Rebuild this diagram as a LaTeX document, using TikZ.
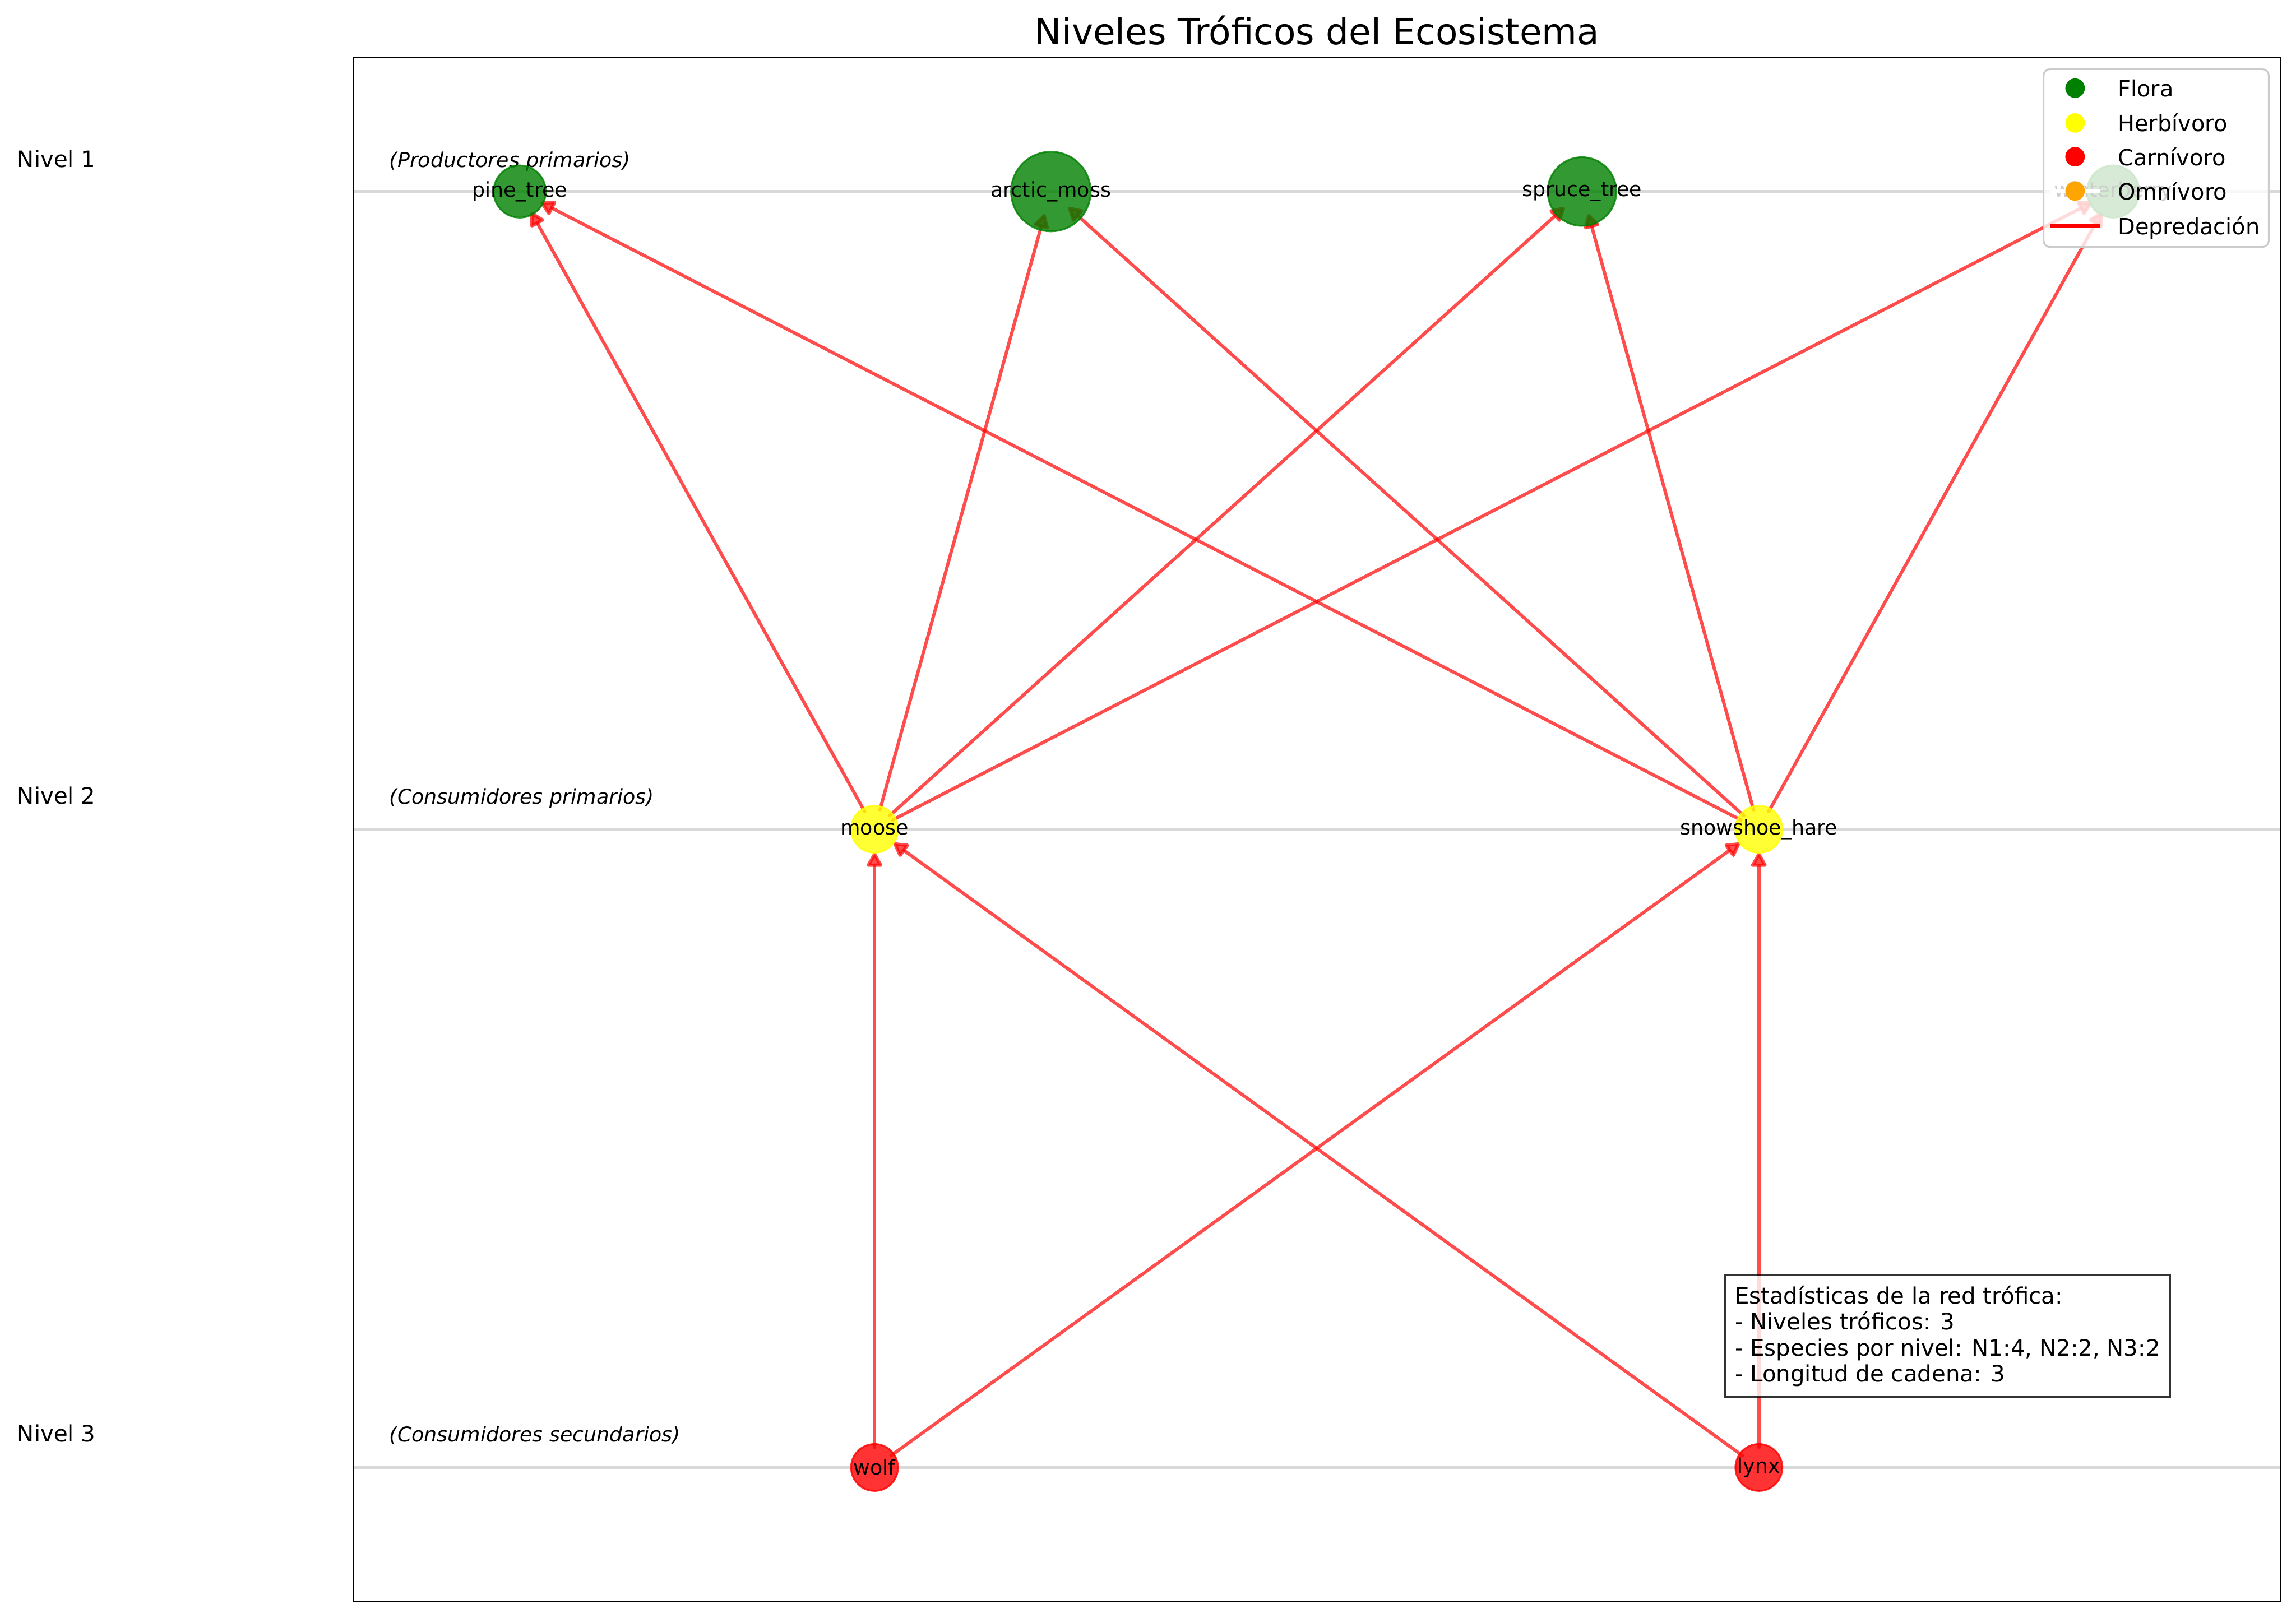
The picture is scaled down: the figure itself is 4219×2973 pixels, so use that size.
\documentclass[tikz,border=0pt]{standalone}
\usepackage{fontspec}
\setmainfont{DejaVu Sans}[ItalicFont={DejaVu Sans Oblique}]
\usetikzlibrary{arrows.meta,positioning}

\definecolor{flora}{HTML}{008000}
\definecolor{herbivoro}{HTML}{FFFF00}
\definecolor{carnivoro}{HTML}{FF0000}
\definecolor{omnivoro}{HTML}{FFA500}

\pgfdeclarelayer{levels}
\pgfdeclarelayer{edges}
\pgfdeclarelayer{front}
\pgfsetlayers{levels,edges,main,front}

\begin{document}
\begin{tikzpicture}[
    x=0.2483pt, y=-0.2483pt,
    species_node/.style={circle, inner sep=0pt, line width=0.8pt, fill opacity=0.8, draw opacity=0.8},
    flora_node/.style={species_node, draw=flora, fill=flora},
    herb_node/.style={species_node, draw=herbivoro, fill=herbivoro, minimum size=21.4pt},
    carn_node/.style={species_node, draw=carnivoro, fill=carnivoro, minimum size=21.4pt},
    species_label/.style={inner sep=0pt, font=\fontsize{9.3}{11}\selectfont},
    level_label/.style={anchor=base west, inner sep=0pt, font=\fontsize{10.3}{12}\selectfont},
    sub_label/.style={anchor=base west, inner sep=0pt, font=\fontsize{9.3}{11}\selectfont\itshape},
    level_line/.style={draw=gray!30, line width=1.4pt},
    edge_arrow/.style={-{Triangle[length=7.3pt, width=7.8pt, round]}, draw=red, line width=1.5pt, opacity=0.7, line cap=round, shorten <=9.2pt, shorten >=10.7pt},
    legend_box/.style={draw=black!20, line width=0.8pt, fill=white, fill opacity=0.8, rounded corners=3pt, minimum width=102.8pt, minimum height=81.2pt},
    legend_dot/.style={circle, inner sep=0pt, minimum size=8.9pt},
    legend_handle/.style={draw=white, line width=1.5pt},
    legend_text/.style={anchor=base west, inner sep=0pt, font=\fontsize{10.2}{12}\selectfont},
    stats_box/.style={draw=black, draw opacity=0.8, fill=white, fill opacity=0.8, text opacity=1, line width=0.9pt, inner xsep=4.5pt, inner ysep=4.7pt, align=left, font=\fontsize{10.3}{11.9}\selectfont}
]
\useasboundingbox (0,0) rectangle (4219,2973);

% Title and axes frame
\node[anchor=base, inner sep=0pt, font=\fontsize{16.5}{19}\selectfont] (title) at (2420,82) {Niveles Tróficos del Ecosistema};
\draw[line width=0.8pt] (649,106) rectangle (4191,2943);

% Trophic level guide lines
\begin{pgfonlayer}{levels}
\draw[level_line] (649,352) -- (4191,352);
\draw[level_line] (649,1524) -- (4191,1524);
\draw[level_line] (649,2697) -- (4191,2697);
\end{pgfonlayer}

% Level names
\node[level_label] (lvl1) at (31,307) {Nivel 1};
\node[level_label] (lvl2) at (31,1478) {Nivel 2};
\node[level_label] (lvl3) at (31,2650) {Nivel 3};
\node[sub_label] (sub1) at (715,307) {(Productores primarios)};
\node[sub_label] (sub2) at (715,1478) {(Consumidores primarios)};
\node[sub_label] (sub3) at (715,2650) {(Consumidores secundarios)};

% Level 1: flora
\node[flora_node, minimum size=23.8pt] (pine) at (955,352) {};
\node[flora_node, minimum size=36.3pt] (moss) at (1931,352) {};
\node[flora_node, minimum size=31.3pt] (spruce) at (2907,352) {};
\node[flora_node, minimum size=23.8pt] (winter) at (3883,352) {};

% Level 2: herbivores
\node[herb_node] (moose) at (1607,1524) {};
\node[herb_node] (hare) at (3232,1524) {};

% Level 3: carnivores
\node[carn_node] (wolf) at (1607,2697) {};
\node[carn_node] (lynx) at (3232,2697) {};

% Species names
\node[species_label] (pine_lbl) at (pine) {pine\_tree};
\node[species_label] (moss_lbl) at (moss) {arctic\_moss};
\node[species_label] (spruce_lbl) at (spruce) {spruce\_tree};
\node[species_label] (winter_lbl) at (winter) {winterberry};
\node[species_label] (moose_lbl) at (moose) {moose};
\node[species_label] (hare_lbl) at (hare) {snowshoe\_hare};
\node[species_label] (wolf_lbl) at (wolf) {wolf};
\node[species_label] (lynx_lbl) at (lynx) {lynx};

% Predation links (predator -> prey)
\begin{pgfonlayer}{edges}
\draw[edge_arrow] (moose.center) -- (pine.center);
\draw[edge_arrow] (moose.center) -- (moss.center);
\draw[edge_arrow] (moose.center) -- (spruce.center);
\draw[edge_arrow] (moose.center) -- (winter.center);
\draw[edge_arrow] (hare.center) -- (pine.center);
\draw[edge_arrow] (hare.center) -- (moss.center);
\draw[edge_arrow] (hare.center) -- (spruce.center);
\draw[edge_arrow] (hare.center) -- (winter.center);
\draw[edge_arrow] (wolf.center) -- (moose.center);
\draw[edge_arrow] (wolf.center) -- (hare.center);
\draw[edge_arrow] (lynx.center) -- (moose.center);
\draw[edge_arrow] (lynx.center) -- (hare.center);
\end{pgfonlayer}

% Legend and statistics
\begin{pgfonlayer}{front}
\node[legend_box] (legend) at (3962,290.5) {};
\draw[legend_handle] (3768,162) -- (3858,162);
\draw[legend_handle] (3768,226) -- (3858,226);
\draw[legend_handle] (3768,288) -- (3858,288);
\draw[legend_handle] (3768,351) -- (3858,351);
\node[legend_dot, fill=flora] (leg_flora) at (3813,162) {};
\node[legend_dot, fill=herbivoro] (leg_herb) at (3813,226) {};
\node[legend_dot, fill=carnivoro] (leg_carn) at (3813,288) {};
\node[legend_dot, fill=omnivoro] (leg_omni) at (3813,351) {};
\draw[draw=red, line width=2pt] (3768,415) -- (3858,415);
\node[legend_text] (leg_flora_txt) at (3891,178) {Flora};
\node[legend_text] (leg_herb_txt) at (3891,242) {Herbívoro};
\node[legend_text] (leg_carn_txt) at (3891,304) {Carnívoro};
\node[legend_text] (leg_omni_txt) at (3891,367) {Omnívoro};
\node[legend_text] (leg_pred_txt) at (3891,431) {Depredación};

\node[stats_box, anchor=north west] (stats) at (3168,2342) {Estadísticas de la red trófica:\\- Niveles tróficos: 3\\- Especies por nivel: N1:4, N2:2, N3:2\\- Longitud de cadena: 3};
\end{pgfonlayer}

\end{tikzpicture}
\end{document}
